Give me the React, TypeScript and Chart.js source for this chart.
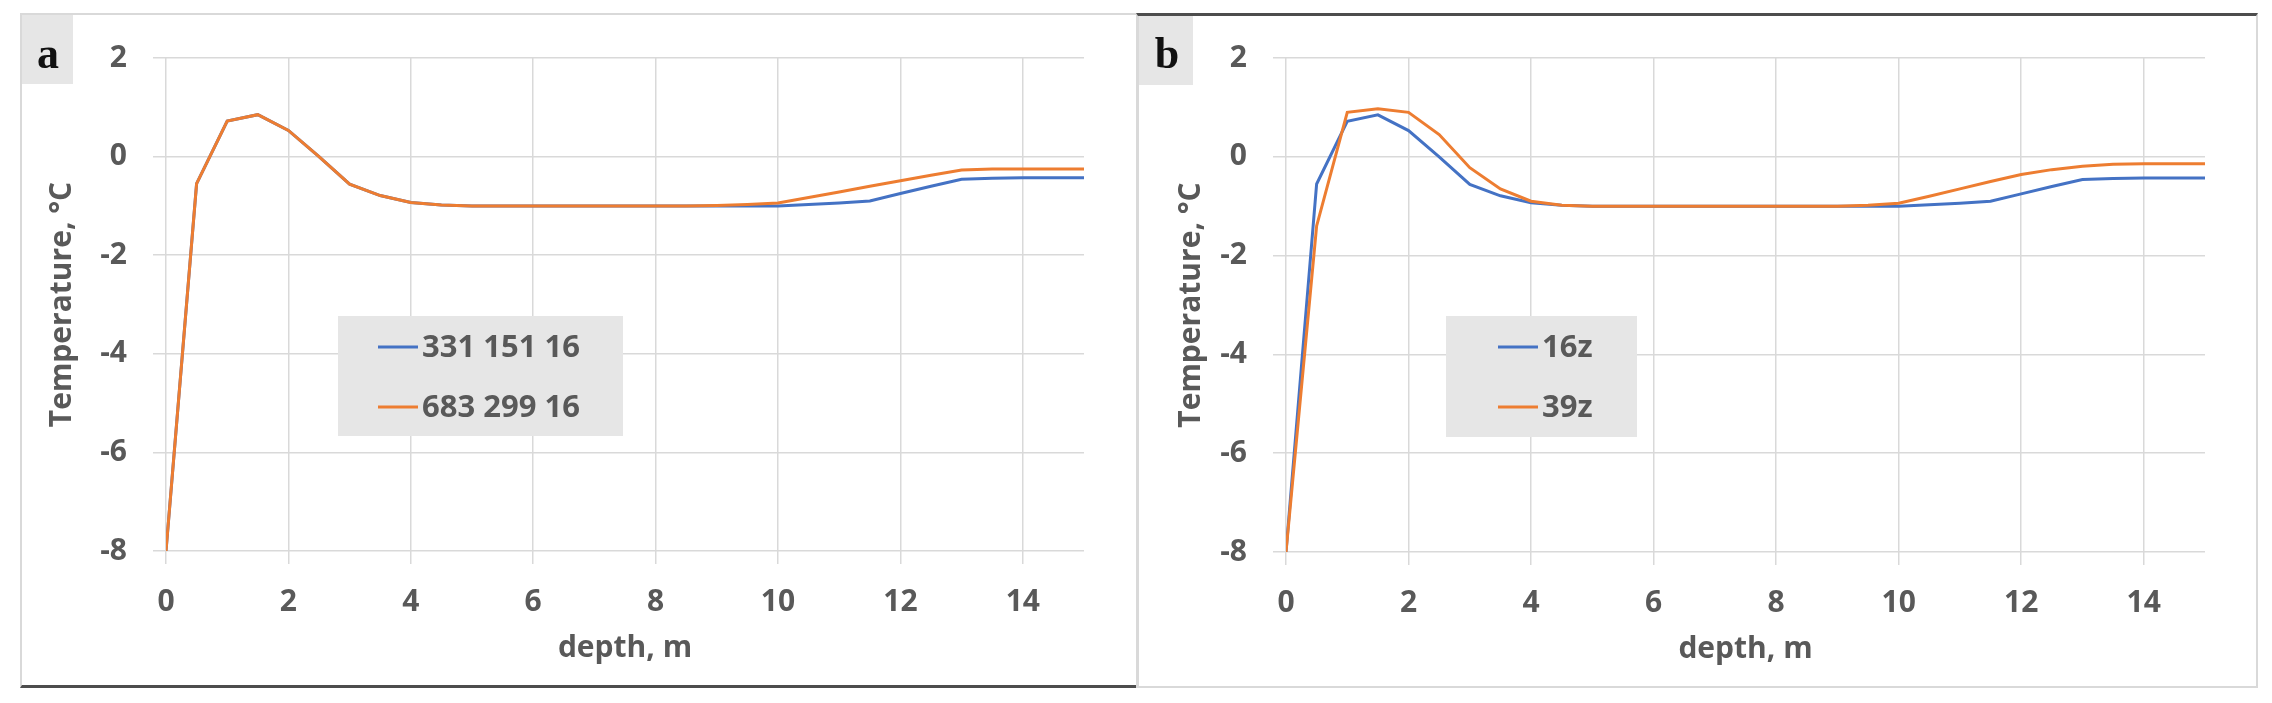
import React, { useEffect, useRef } from "react";
import { Chart, registerables } from "chart.js";

Chart.register(...registerables);

// ---- data ----
const DEPTH = [0, 0.5, 1, 1.5, 2, 2.5, 3, 3.5, 4, 4.5, 5, 5.5, 6, 6.5, 7, 7.5, 8, 8.5, 9, 9.5, 10, 10.5, 11, 11.5, 12, 12.5, 13, 13.5, 14, 14.5, 15];

const T_331_151_16 = [-8, -0.55, 0.72, 0.85, 0.53, 0.0, -0.56, -0.79, -0.93, -0.98, -1.0, -1.0, -1.0, -1.0, -1.0, -1.0, -1.0, -1.0, -1.0, -1.0, -1.0, -0.97, -0.94, -0.9, -0.75, -0.6, -0.46, -0.44, -0.43, -0.43, -0.43];
const T_683_299_16 = [-8, -0.55, 0.72, 0.85, 0.53, 0.0, -0.56, -0.79, -0.93, -0.98, -1.0, -1.0, -1.0, -1.0, -1.0, -1.0, -1.0, -1.0, -0.99, -0.97, -0.94, -0.83, -0.72, -0.6, -0.49, -0.38, -0.27, -0.25, -0.25, -0.25, -0.25];

const T_16Z = [-8, -0.55, 0.72, 0.85, 0.53, 0.0, -0.56, -0.79, -0.93, -0.98, -1.0, -1.0, -1.0, -1.0, -1.0, -1.0, -1.0, -1.0, -1.0, -1.0, -1.0, -0.97, -0.94, -0.9, -0.75, -0.6, -0.46, -0.44, -0.43, -0.43, -0.43];
const T_39Z = [-8, -1.4, 0.9, 0.97, 0.9, 0.45, -0.22, -0.65, -0.9, -0.98, -1.0, -1.0, -1.0, -1.0, -1.0, -1.0, -1.0, -1.0, -1.0, -0.98, -0.94, -0.8, -0.65, -0.5, -0.36, -0.26, -0.19, -0.15, -0.14, -0.14, -0.14];

const LABELS_A = ["331 151 16", "683 299 16"];
const LABELS_B = ["16z", "39z"];

const X_TICKS = [0, 2, 4, 6, 8, 10, 12, 14];
const Y_TICKS = [-8, -6, -4, -2, 0, 2];

const X_TITLE = "depth, m";
const Y_TITLE = "Temperature, °C";

// ---- styles ----
const BLUE = "#4472C4";
const ORANGE = "#ED7D31";
const TEXT = "#595959";
const GRID = "#d9d9d9";
const FONT = "'Open Sans', sans-serif";

const panelPlugin = {
  id: "panelDecor",
  beforeDraw(chart: any, _a: any, o: any) {
    const ctx = chart.ctx;
    ctx.save();
    ctx.fillStyle = "#e6e6e6";
    ctx.fillRect(o.tag.x, o.tag.y, o.tag.w, o.tag.h);
    ctx.fillStyle = "#111";
    ctx.font = "bold 44px 'Liberation Serif', serif";
    ctx.textAlign = "center";
    ctx.textBaseline = "alphabetic";
    ctx.fillText(o.letter, o.tag.lx, o.tag.ly);
    ctx.restore();
  },
  afterDraw(chart: any, _a: any, o: any) {
    const ctx = chart.ctx;
    const L = o.legend;
    ctx.save();
    ctx.fillStyle = "#e6e6e6";
    ctx.fillRect(L.x, L.y, L.w, L.h);
    chart.data.datasets.forEach((ds: any, i: number) => {
      const y = L.rows[i];
      ctx.strokeStyle = ds.borderColor;
      ctx.lineWidth = 3;
      ctx.beginPath();
      ctx.moveTo(L.l0, y);
      ctx.lineTo(L.l1, y);
      ctx.stroke();
      ctx.fillStyle = TEXT;
      ctx.font = `bold 31px ${FONT}`;
      ctx.textAlign = "left";
      ctx.textBaseline = "middle";
      ctx.fillText(ds.label, L.tx, y + 1);
    });
    ctx.restore();
  },
};

type PanelCfg = {
  labels: string[];
  s1: number[];
  s2: number[];
  letter: string;
  pad: { left: number; top: number; right: number; bottom: number };
  yWidth: number;
  yTitlePad: number;
  tag: any;
  legend: any;
};

function makeConfig(p: PanelCfg): any {
  const pts = (arr: number[]) => DEPTH.map((x, i) => ({ x, y: arr[i] }));
  const tickFont = { family: FONT, size: 30, weight: "bold" as const };
  return {
    type: "line",
    data: {
      datasets: [
        { label: p.labels[0], data: pts(p.s1), borderColor: BLUE, backgroundColor: BLUE, borderWidth: 3, pointRadius: 0, tension: 0, order: 1 },
        { label: p.labels[1], data: pts(p.s2), borderColor: ORANGE, backgroundColor: ORANGE, borderWidth: 3, pointRadius: 0, tension: 0, order: 0 },
      ],
    },
    options: {
      responsive: false,
      animation: false,
      devicePixelRatio: 1,
      layout: { padding: p.pad },
      plugins: {
        legend: { display: false },
        tooltip: { enabled: false },
        panelDecor: { letter: p.letter, tag: p.tag, legend: p.legend },
      },
      scales: {
        x: {
          type: "linear",
          min: 0,
          max: 15,
          afterBuildTicks: (s: any) => {
            s.ticks = X_TICKS.map((v) => ({ value: v }));
          },
          afterFit: (s: any) => {
            s.height = 115;
          },
          grid: { color: GRID, lineWidth: 1.5, tickLength: 13, drawTicks: true },
          border: { display: false },
          ticks: { padding: 20, font: tickFont, color: TEXT, maxRotation: 0, autoSkip: false },
          title: { display: true, text: X_TITLE, font: tickFont, color: TEXT, padding: { top: 0, bottom: 0 } },
        },
        y: {
          type: "linear",
          min: -8,
          max: 2,
          afterBuildTicks: (s: any) => {
            s.ticks = Y_TICKS.map((v) => ({ value: v }));
          },
          afterFit: (s: any) => {
            s.width = p.yWidth;
          },
          grid: { color: GRID, lineWidth: 1.5, tickLength: 13, drawTicks: true },
          border: { display: false },
          ticks: { padding: 26, font: tickFont, color: TEXT, autoSkip: false },
          title: { display: true, text: Y_TITLE, font: tickFont, color: TEXT, padding: { top: p.yTitlePad, bottom: 0 } },
        },
      },
    },
    plugins: [panelPlugin],
  };
}

function Panel(props: { cfg: PanelCfg; left: number; top: number; width: number; height: number }) {
  const ref = useRef<HTMLCanvasElement>(null);
  useEffect(() => {
    const chart = new Chart(ref.current as HTMLCanvasElement, makeConfig(props.cfg));
    return () => chart.destroy();
  }, []);
  return (
    <canvas
      ref={ref}
      width={props.width}
      height={props.height}
      style={{ position: "absolute", left: props.left, top: props.top, width: props.width, height: props.height }}
    />
  );
}

const PANEL_A: PanelCfg = {
  labels: LABELS_A,
  s1: T_331_151_16,
  s2: T_683_299_16,
  letter: "a",
  pad: { left: 0, top: 42, right: 55, bottom: 22 },
  yWidth: 145,
  yTitlePad: 23,
  tag: { x: 1, y: 1, w: 51, h: 69, lx: 27, ly: 54 },
  legend: { x: 317, y: 302, w: 285, h: 120, l0: 357, l1: 397, tx: 401, rows: [333, 393] },
};

const PANEL_B: PanelCfg = {
  labels: LABELS_B,
  s1: T_16Z,
  s2: T_39Z,
  letter: "b",
  pad: { left: 0, top: 43, right: 53, bottom: 21 },
  yWidth: 147,
  yTitlePad: 34,
  tag: { x: 0, y: 2, w: 54, h: 69, lx: 28, ly: 54 },
  legend: { x: 307, y: 302, w: 191, h: 121, l0: 359, l1: 399, tx: 403, rows: [333, 393] },
};

export default function App() {
  return (
    <div style={{ position: "fixed", left: 0, top: 0, width: 2272, height: 703, background: "#fff", overflow: "hidden" }}>
      <div
        style={{
          position: "absolute",
          left: 20,
          top: 13,
          width: 1119,
          height: 675,
          boxSizing: "border-box",
          borderLeft: "2px solid #d9d9d9",
          borderTop: "2px solid #d9d9d9",
          borderRight: "2px solid #d9d9d9",
          borderBottom: "3px solid #4d4d4d",
        }}
      />
      <div
        style={{
          position: "absolute",
          left: 1136,
          top: 13,
          width: 1122,
          height: 675,
          boxSizing: "border-box",
          borderLeft: "2px solid #d9d9d9",
          borderTop: "3px solid #4d4d4d",
          borderRight: "2px solid #d9d9d9",
          borderBottom: "2px solid #d9d9d9",
        }}
      />
      <Panel cfg={PANEL_A} left={21} top={14} width={1118} height={674} />
      <Panel cfg={PANEL_B} left={1139} top={14} width={1119} height={674} />
    </div>
  );
}
